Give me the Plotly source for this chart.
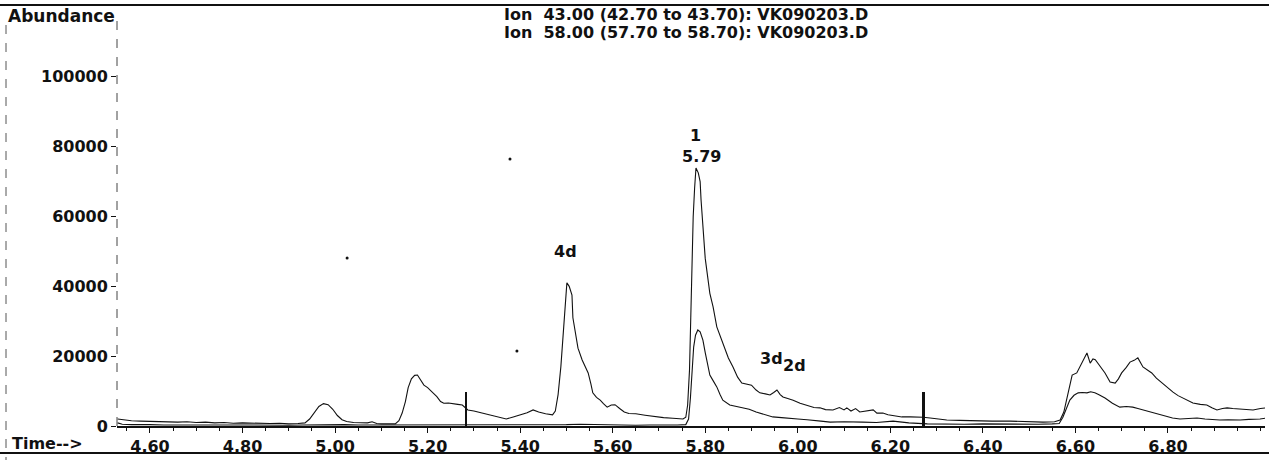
import plotly.graph_objects as go

# ---------------- data ----------------
ion43_time = [4.530, 4.545, 4.56, 4.58, 4.60, 4.62, 4.64, 4.66, 4.68, 4.70, 4.72, 4.74, 4.76, 4.78, 4.80,
              4.82, 4.84, 4.86, 4.88, 4.90, 4.92, 4.935, 4.945, 4.955, 4.965, 4.975, 4.985, 4.995, 5.005,
              5.015, 5.025, 5.04, 5.06, 5.07, 5.08, 5.09, 5.10, 5.12, 5.13, 5.138, 5.145, 5.152, 5.158,
              5.165, 5.172, 5.178, 5.185, 5.192, 5.200, 5.21, 5.22, 5.228, 5.235, 5.245, 5.255, 5.265,
              5.275, 5.287, 5.30, 5.315, 5.33, 5.35, 5.37, 5.385, 5.40, 5.415, 5.428, 5.44, 5.455, 5.47,
              5.476, 5.482, 5.488, 5.493, 5.497, 5.501, 5.506, 5.512, 5.514, 5.520, 5.525, 5.534, 5.547,
              5.553, 5.557, 5.565, 5.573, 5.58, 5.588, 5.597, 5.605, 5.615, 5.625, 5.635, 5.65, 5.67, 5.69,
              5.71, 5.73, 5.752, 5.758, 5.762, 5.766, 5.769, 5.771, 5.774, 5.777, 5.780, 5.785, 5.789,
              5.791, 5.80, 5.81, 5.817, 5.825, 5.838, 5.85, 5.86, 5.87, 5.879, 5.89, 5.90, 5.91, 5.918,
              5.93, 5.94, 5.948, 5.955, 5.962, 5.968, 5.98, 5.99, 6.005, 6.02, 6.035, 6.048, 6.06, 6.076,
              6.09, 6.10, 6.106, 6.115, 6.125, 6.134, 6.15, 6.163, 6.171, 6.184, 6.195, 6.206, 6.225,
              6.243, 6.264, 6.271, 6.286, 6.30, 6.322, 6.35, 6.387, 6.42, 6.459, 6.49, 6.53, 6.555, 6.567,
              6.575, 6.584, 6.589, 6.593, 6.603, 6.612, 6.62, 6.625, 6.632, 6.638, 6.643, 6.649, 6.657,
              6.664, 6.675, 6.686, 6.693, 6.70, 6.71, 6.718, 6.727, 6.735, 6.746, 6.755, 6.765, 6.775,
              6.787, 6.80, 6.811, 6.822, 6.833, 6.845, 6.854, 6.87, 6.884, 6.895, 6.906, 6.918, 6.928,
              6.94, 6.956, 6.97, 6.984, 7.00, 7.014]
ion43_abund = [2000, 1700, 1500, 1400, 1300, 1200, 1300, 1100, 1200, 1000, 1100, 900, 1000, 800, 900,
               800, 900, 700, 800, 600, 700, 900, 2000, 3800, 5600, 6400, 6100, 4800, 3000,
               1800, 1300, 1000, 800, 900, 1200, 700, 600, 700, 600, 1500, 3700, 7000, 11000,
               13500, 14500, 14600, 13000, 11700, 11000, 9800, 8400, 7000, 6500, 6600, 6300, 6200,
               6000, 4600, 4300, 3800, 3200, 2700, 2000, 2600, 3200, 3800, 4600, 4000, 3500, 3200,
               4300, 9000, 17000, 27000, 36000, 41000, 40000, 37500, 31000, 25500, 22300, 18900, 15200,
               12000, 9500, 8200, 7400, 6400, 5400, 6000, 6100, 5000, 4000, 3600, 3500, 3100, 2700,
               2400, 2200, 2000, 2500, 6000, 16000, 35000, 46000, 60000, 68000, 73900, 72500, 70000,
               64700, 48000, 38000, 34100, 28400, 23800, 19500, 16900, 14000, 12300, 12000, 11700, 10300, 9500,
               9200, 8900, 9600, 10300, 9000, 8300, 7800, 7400, 6500, 6000, 5300, 5200, 4700, 4600,
               5300, 4600, 5200, 4300, 5000, 4000, 4300, 4600, 3700, 3700, 3200, 2900, 2600,
               2600, 2600, 2500, 2300, 2000, 1700, 1600, 1400, 1400, 1400, 1200, 1100, 1200, 1700,
               4000, 9700, 12500, 14600, 15200, 17500, 19800, 20900, 18000, 19200, 19000, 18000, 16500,
               15200, 12600, 12300, 13500, 15200, 16800, 18300, 18800, 19500, 16900, 16200, 15200, 13700,
               12300, 11000, 9700, 8700, 8000, 7200, 6600, 6200, 6000, 5200, 4600, 5000, 5200,
               5000, 4900, 4700, 4600, 5000, 5200]

ion58_time = [4.53, 4.54, 4.56, 4.58, 4.60, 4.63, 4.66, 4.69, 4.72, 4.75, 4.78, 4.81, 4.84, 4.87, 4.90,
              4.93, 4.96, 4.99, 5.02, 5.05, 5.08, 5.11, 5.14, 5.17, 5.20, 5.23, 5.26, 5.29, 5.32, 5.35,
              5.38, 5.41, 5.44, 5.47, 5.50, 5.53, 5.56, 5.59, 5.62, 5.65, 5.68, 5.71, 5.74, 5.758, 5.764,
              5.768, 5.772, 5.775, 5.779, 5.784, 5.789, 5.795, 5.80, 5.805, 5.81, 5.817, 5.825, 5.832,
              5.838, 5.853, 5.867, 5.881, 5.895, 5.91, 5.928, 5.946, 5.965, 5.983, 6.00, 6.02, 6.033,
              6.05, 6.07, 6.10, 6.14, 6.17, 6.206, 6.24, 6.28, 6.32, 6.36, 6.40, 6.44, 6.48, 6.52, 6.55,
              6.565, 6.573, 6.58, 6.588, 6.597, 6.606, 6.615, 6.625, 6.633, 6.642, 6.65, 6.657, 6.664,
              6.68, 6.696, 6.71, 6.724, 6.735, 6.746, 6.757, 6.768, 6.78, 6.797, 6.81, 6.826, 6.845,
              6.863, 6.88, 6.895, 6.912, 6.93, 6.956, 6.975, 6.999, 7.014]
ion58_abund = [900, 500, 400, 300, 400, 300, 400, 300, 300, 400, 300, 300, 200, 300, 200,
               300, 400, 500, 400, 300, 300, 200, 300, 400, 300, 300, 200, 300, 200, 300,
               200, 300, 300, 200, 400, 500, 400, 300, 300, 200, 300, 200, 300, 400, 2000,
               8000, 16000, 22600, 26000, 27500, 27000, 24600, 21000, 17500, 14600, 13000, 11200, 9000,
               7400, 6000, 5600, 5400, 4800, 4000, 3200, 2600, 2400, 2300, 2000, 1800, 1700,
               1400, 1100, 1200, 1100, 1000, 1400, 900, 600, 500, 500, 600, 500, 600, 500, 600,
               700, 2500, 4600, 7400, 8800, 9500, 9600, 9500, 9800, 9500, 9000, 8600, 8000,
               6500, 5400, 5600, 5400, 5000, 4600, 4200, 3700, 3200, 2600, 2300, 2000, 2200,
               2300, 2000, 1900, 1700, 1800, 1700, 1900, 2000, 2300]

# integration markers (vertical bars)
marker_time = [5.283, 6.271]
marker_height = [9700, 9700]

# scan specks
speck_time = [5.378, 5.026, 5.393]
speck_abund = [76500, 48100, 21500]

# peak labels
label_text = ["1", "5.79", "4d", "3d", "2d"]
label_time = [5.780, 5.793, 5.499, 5.944, 5.994]
label_abund = [83100, 77100, 49900, 19200, 17300]

x_ticks = [4.6, 4.8, 5.0, 5.2, 5.4, 5.6, 5.8, 6.0, 6.2, 6.4, 6.6, 6.8]
y_ticks = [0, 20000, 40000, 60000, 80000, 100000]

title_lines = ["Ion\u00a0 43.00 (42.70 to 43.70): VK090203.D",
               "Ion\u00a0 58.00 (57.70 to 58.70): VK090203.D"]

FONT = "DejaVu Sans"
INK = "#111111"

# ---------------- figure ----------------
fig = go.Figure()
fig.add_trace(go.Scatter(x=ion43_time, y=ion43_abund, mode="lines",
                         line=dict(color=INK, width=1.1), name="Ion 43.00", hoverinfo="skip"))
fig.add_trace(go.Scatter(x=ion58_time, y=ion58_abund, mode="lines",
                         line=dict(color=INK, width=1.1), name="Ion 58.00", hoverinfo="skip"))
fig.add_trace(go.Bar(x=marker_time, y=marker_height, width=0.006, marker=dict(color=INK, line=dict(width=0)),
                     hoverinfo="skip"))
fig.add_trace(go.Scatter(x=speck_time, y=speck_abund, mode="markers",
                         marker=dict(color=INK, size=3), hoverinfo="skip"))

for t, xx, yy in zip(label_text, label_time, label_abund):
    fig.add_annotation(x=xx, y=yy, xref="x", yref="y", text=t, showarrow=False,
                       font=dict(family=FONT, size=16, color=INK, weight="bold"))

L, R, T, B = 117, 4, 7, 34
W, H = 1269, 460
pw, ph = W - L - R, H - T - B


def px(xp):
    return (xp - L) / pw


def py(yp):
    return (H - B - yp) / ph


for i, line in enumerate(title_lines):
    fig.add_annotation(x=px(502), y=py(14 + 19 * i), xref="paper", yref="paper", text=line,
                       showarrow=False, xanchor="left", yanchor="middle",
                       font=dict(family=FONT, size=16, color=INK, weight="bold"))

fig.add_annotation(x=px(6), y=py(16), xref="paper", yref="paper", text="Abundance", showarrow=False,
                   xanchor="left", yanchor="middle", font=dict(family=FONT, size=17, color=INK, weight="bold"))
fig.add_annotation(x=px(10), y=py(443), xref="paper", yref="paper", text="Time-->", showarrow=False,
                   xanchor="left", yanchor="middle", font=dict(family=FONT, size=16, color=INK, weight="bold"))

# page frame lines (scan borders)
fig.add_shape(type="line", xref="paper", yref="paper", x0=px(0), x1=px(W), y0=py(5), y1=py(5),
              line=dict(color=INK, width=2))
fig.add_shape(type="line", xref="paper", yref="paper", x0=px(0), x1=px(W), y0=py(453), y1=py(453),
              line=dict(color=INK, width=2))
fig.add_shape(type="line", xref="paper", yref="paper", x0=px(6), x1=px(6), y0=py(25), y1=py(460),
              line=dict(color="#555555", width=1, dash="dash"))
fig.add_shape(type="line", xref="paper", yref="paper", x0=0, x1=0, y0=0, y1=py(20),
              line=dict(color="#444444", width=1, dash="dash"))

fig.update_layout(
    width=W, height=H,
    margin=dict(l=L, r=R, t=T, b=B),
    paper_bgcolor="white", plot_bgcolor="white",
    showlegend=False,
    bargap=0,
    xaxis=dict(range=[4.5287, 7.0098], tickvals=x_ticks, tickformat=".2f",
               ticks="outside", ticklen=5, tickcolor=INK, showgrid=False, zeroline=False,
               showline=True, linecolor=INK, linewidth=1.5,
               minor=dict(dtick=0.05, tick0=4.6, ticks="outside", ticklen=3, tickcolor=INK),
               tickfont=dict(family=FONT, size=16, color=INK, weight="bold")),
    yaxis=dict(range=[0, 120000], tickvals=y_ticks, tickformat="d",
               ticks="outside", ticklen=5, tickcolor=INK, showgrid=False, zeroline=False,
               showline=False,
               tickfont=dict(family=FONT, size=16, color=INK, weight="bold")),
)

fig.write_html("out.html", config={"displayModeBar": False},
               post_script="document.body.style.margin='0';document.body.style.padding='0';")
